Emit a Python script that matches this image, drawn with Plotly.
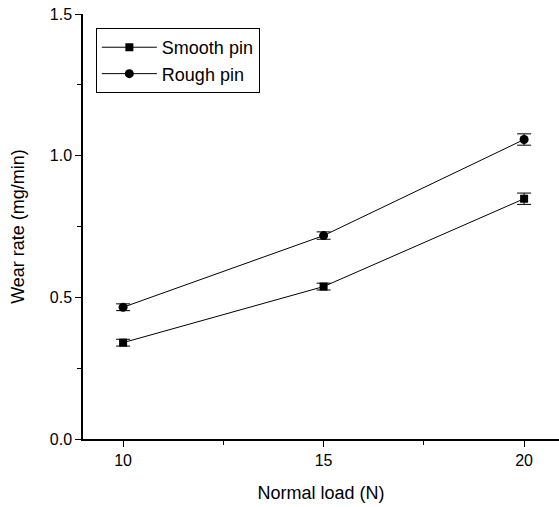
import plotly.graph_objects as go

loads = [10, 15, 20]
smooth = [0.340, 0.538, 0.848]
smooth_err = [0.012, 0.012, 0.020]
rough = [0.465, 0.718, 1.057]
rough_err = [0.012, 0.013, 0.020]

FONT = "Liberation Sans, Arial, sans-serif"

fig = go.Figure()
fig.add_trace(go.Scatter(
    x=loads, y=smooth, name="Smooth pin", mode="lines+markers",
    line=dict(color="black", width=1),
    marker=dict(symbol="square", size=8, color="black"),
    error_y=dict(type="data", array=smooth_err, visible=True, color="black", thickness=1, width=7),
))
fig.add_trace(go.Scatter(
    x=loads, y=rough, name="Rough pin", mode="lines+markers",
    line=dict(color="black", width=1),
    marker=dict(symbol="circle", size=9, color="black"),
    error_y=dict(type="data", array=rough_err, visible=True, color="black", thickness=1, width=7),
))

fig.update_layout(
    width=559, height=507,
    margin=dict(l=83, r=0, t=14, b=68),
    paper_bgcolor="white", plot_bgcolor="white",
    font=dict(family=FONT, color="black", size=16),
    showlegend=True,
    legend=dict(
        x=0.027, y=0.967, xanchor="left", yanchor="top",
        bordercolor="black", borderwidth=1, bgcolor="white",
        font=dict(size=18, family=FONT), tracegroupgap=0, itemwidth=55,
    ),
    xaxis=dict(
        range=[9, 20.87], tickvals=[10, 15, 20], ticktext=["10", "15", "20"],
        ticks="outside", ticklen=6, tickwidth=1, tickcolor="black",
        showline=True, linecolor="black", linewidth=1.5, showgrid=False, zeroline=False,
        minor=dict(tickvals=[12.5, 17.5], ticks="outside", ticklen=4, tickcolor="black", tickwidth=1),
        title=dict(text="Normal load (N)", font=dict(size=18, family=FONT), standoff=18),
        tickfont=dict(size=16),
    ),
    yaxis=dict(
        range=[0, 1.5], tickvals=[0, 0.5, 1.0, 1.5], ticktext=["0.0", "0.5", "1.0", "1.5"],
        ticks="outside", ticklen=6, tickwidth=1, tickcolor="black",
        showline=True, linecolor="black", linewidth=1.5, showgrid=False, zeroline=False,
        minor=dict(tickvals=[0.25, 0.75, 1.25], ticks="outside", ticklen=4, tickcolor="black", tickwidth=1),
        title=dict(text="Wear rate (mg/min)", font=dict(size=18, family=FONT), standoff=20),
        tickfont=dict(size=16),
    ),
)

fig.write_html("out.html")
